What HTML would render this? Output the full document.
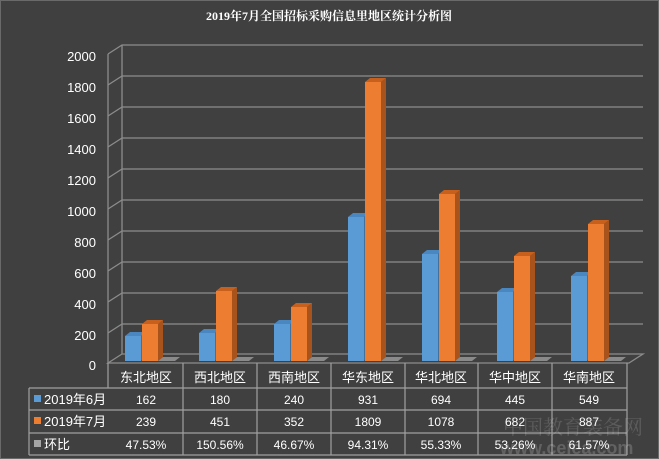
<!DOCTYPE html><html><head><meta charset="utf-8"><style>html,body{margin:0;padding:0;background:#404040}svg{display:block}</style></head><body>
<svg width="659" height="459" xmlns="http://www.w3.org/2000/svg" font-family="Liberation Sans, Noto Sans CJK SC, sans-serif">
<rect x="0" y="0" width="659" height="459" fill="#404040"/>
<rect x="0.5" y="0.5" width="658" height="458" fill="none" stroke="#6a6a6a"/>
<text x="329" y="20" text-anchor="middle" font-size="12" font-weight="bold" fill="#fff" font-family="Liberation Serif, Noto Serif CJK SC, serif">2019年7月全国招标采购信息里地区统计分析图</text>
<g stroke="#8c8c8c" stroke-width="1.3" fill="none">
<line x1="108" y1="54" x2="108" y2="363"/>
<line x1="122" y1="45" x2="122" y2="354"/>
<path d="M108 54 L122 45 L643 45"/><path d="M108 85 L122 76 L643 76"/><path d="M108 116 L122 107 L643 107"/><path d="M108 147 L122 138 L643 138"/><path d="M108 178 L122 169 L643 169"/><path d="M108 209 L122 200 L643 200"/><path d="M108 240 L122 231 L643 231"/><path d="M108 271 L122 262 L643 262"/><path d="M108 302 L122 293 L643 293"/><path d="M108 333 L122 324 L643 324"/><path d="M108 363 L122 354 L643 354 L629 363 Z"/>
</g>
<g fill="#fff" font-size="13" text-anchor="end">
<text x="96" y="61">2000</text><text x="96" y="92">1800</text><text x="96" y="123">1600</text><text x="96" y="154">1400</text><text x="96" y="185">1200</text><text x="96" y="216">1000</text><text x="96" y="247">800</text><text x="96" y="278">600</text><text x="96" y="309">400</text><text x="96" y="340">200</text><text x="96" y="370">0</text>
</g>
<g>
<polygon points="141,336 146,332 146,357 141,361" fill="#41719c"/><polygon points="125,336 130,332 146,332 141,336" fill="#4a86c0"/><rect x="125" y="336" width="16" height="25" fill="#5b9bd5"/>
<polygon points="215,333 220,329 220,357 215,361" fill="#41719c"/><polygon points="199,333 204,329 220,329 215,333" fill="#4a86c0"/><rect x="199" y="333" width="16" height="28" fill="#5b9bd5"/>
<polygon points="290,324 295,320 295,357 290,361" fill="#41719c"/><polygon points="274,324 279,320 295,320 290,324" fill="#4a86c0"/><rect x="274" y="324" width="16" height="37" fill="#5b9bd5"/>
<polygon points="364,217 369,213 369,357 364,361" fill="#41719c"/><polygon points="348,217 353,213 369,213 364,217" fill="#4a86c0"/><rect x="348" y="217" width="16" height="144" fill="#5b9bd5"/>
<polygon points="438,254 443,250 443,357 438,361" fill="#41719c"/><polygon points="422,254 427,250 443,250 438,254" fill="#4a86c0"/><rect x="422" y="254" width="16" height="107" fill="#5b9bd5"/>
<polygon points="513,292 518,288 518,357 513,361" fill="#41719c"/><polygon points="497,292 502,288 518,288 513,292" fill="#4a86c0"/><rect x="497" y="292" width="16" height="69" fill="#5b9bd5"/>
<polygon points="587,276 592,272 592,357 587,361" fill="#41719c"/><polygon points="571,276 576,272 592,272 587,276" fill="#4a86c0"/><rect x="571" y="276" width="16" height="85" fill="#5b9bd5"/>
</g>
<g>
<polygon points="158,324 163,320 163,357 158,361" fill="#a9531c"/><polygon points="142,324 147,320 163,320 158,324" fill="#c7601d"/><rect x="142" y="324" width="16" height="37" fill="#ed7d31"/>
<polygon points="232,291 237,287 237,357 232,361" fill="#a9531c"/><polygon points="216,291 221,287 237,287 232,291" fill="#c7601d"/><rect x="216" y="291" width="16" height="70" fill="#ed7d31"/>
<polygon points="307,307 312,303 312,357 307,361" fill="#a9531c"/><polygon points="291,307 296,303 312,303 307,307" fill="#c7601d"/><rect x="291" y="307" width="16" height="54" fill="#ed7d31"/>
<polygon points="381,82 386,78 386,357 381,361" fill="#a9531c"/><polygon points="365,82 370,78 386,78 381,82" fill="#c7601d"/><rect x="365" y="82" width="16" height="279" fill="#ed7d31"/>
<polygon points="455,194 460,190 460,357 455,361" fill="#a9531c"/><polygon points="439,194 444,190 460,190 455,194" fill="#c7601d"/><rect x="439" y="194" width="16" height="167" fill="#ed7d31"/>
<polygon points="530,256 535,252 535,357 530,361" fill="#a9531c"/><polygon points="514,256 519,252 535,252 530,256" fill="#c7601d"/><rect x="514" y="256" width="16" height="105" fill="#ed7d31"/>
<polygon points="604,224 609,220 609,357 604,361" fill="#a9531c"/><polygon points="588,224 593,220 609,220 604,224" fill="#c7601d"/><rect x="588" y="224" width="16" height="137" fill="#ed7d31"/>
</g>
<g fill="#8a8a8a">
<polygon points="158,361 163,357 180,357 175,361"/><polygon points="232,361 237,357 254,357 249,361"/><polygon points="307,361 312,357 329,357 324,361"/><polygon points="381,361 386,357 403,357 398,361"/><polygon points="455,361 460,357 477,357 472,361"/><polygon points="530,361 535,357 552,357 547,361"/><polygon points="604,361 609,357 626,357 621,361"/>
</g>
<g stroke="#a0a0a0" stroke-width="1.2" fill="none">
<path d="M108 363 V388 M29 388 H627 M29 410 H627 M29 433 H627 M29 455 H627 M29 388 V455 M627 363 V455"/>
<path d="M183 363 V455 M257 363 V455 M331 363 V455 M405 363 V455 M478 363 V455 M552 363 V455"/>
</g>
<g fill="#fff" font-size="13" text-anchor="middle">
<text x="146" y="382">东北地区</text><text x="220" y="382">西北地区</text><text x="294" y="382">西南地区</text><text x="368" y="382">华东地区</text><text x="441" y="382">华北地区</text><text x="515" y="382">华中地区</text><text x="589" y="382">华南地区</text>
</g>
<g fill="#fff" font-size="12" text-anchor="middle">
<text x="146" y="404">162</text><text x="220" y="404">180</text><text x="294" y="404">240</text><text x="368" y="404">931</text><text x="441" y="404">694</text><text x="515" y="404">445</text><text x="589" y="404">549</text>
<text x="146" y="426">239</text><text x="220" y="426">451</text><text x="294" y="426">352</text><text x="368" y="426">1809</text><text x="441" y="426">1078</text><text x="515" y="426">682</text><text x="589" y="426">887</text>
<text x="146" y="449">47.53%</text><text x="220" y="449">150.56%</text><text x="294" y="449">46.67%</text><text x="368" y="449">94.31%</text><text x="441" y="449">55.33%</text><text x="515" y="449">53.26%</text><text x="589" y="449">61.57%</text>
</g>
<rect x="34" y="395" width="7" height="7" fill="#5b9bd5"/><text x="44" y="404" fill="#fff" font-size="13">2019年6月</text>
<rect x="34" y="417" width="7" height="7" fill="#ed7d31"/><text x="44" y="426" fill="#fff" font-size="13">2019年7月</text>
<rect x="34" y="440" width="7" height="7" fill="#a5a5a5"/><text x="44" y="449" fill="#fff" font-size="13">环比</text>
<text x="503" y="434" fill="#ffffff" fill-opacity="0.15" font-size="20" font-family="Noto Serif CJK SC, serif">中国教育装备网</text>
<text x="500" y="454" fill="#ffffff" fill-opacity="0.18" font-size="18" font-weight="bold">www.ceiea.com</text>
</svg>
</body></html>
